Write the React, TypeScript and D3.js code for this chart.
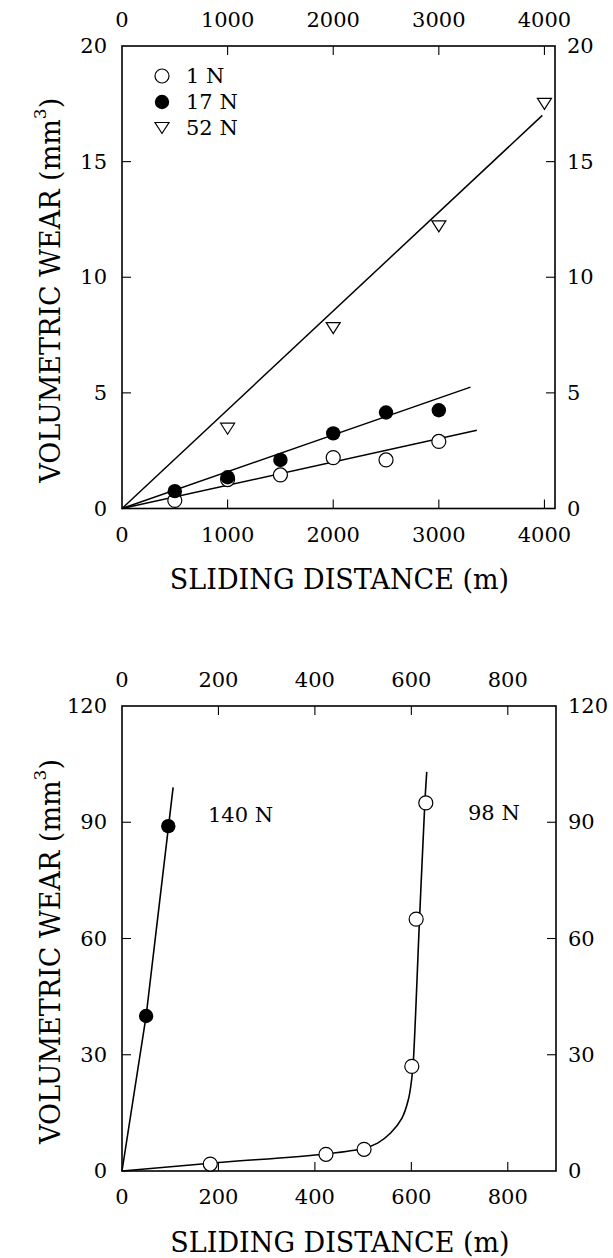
import React from "react";
import * as d3 from "d3";

// ---------- top chart data ----------
const topXTicks = [0, 1000, 2000, 3000, 4000];
const topYTicks = [0, 5, 10, 15, 20];
const dist1N = [500, 1000, 1500, 2000, 2500, 3000];
const wear1N = [0.35, 1.25, 1.45, 2.2, 2.1, 2.9];
const dist17N = [500, 1000, 1500, 2000, 2500, 3000];
const wear17N = [0.75, 1.35, 2.1, 3.25, 4.15, 4.25];
const dist52N = [1000, 2000, 3000, 4000];
const wear52N = [3.45, 7.8, 12.2, 17.5];
const fit1N: [number, number][] = [[0, 0], [3360, 3.38]];
const fit17N: [number, number][] = [[0, 0], [3300, 5.25]];
const fit52N: [number, number][] = [[0, 0], [3980, 17.0]];
const legendLabels = ["1 N", "17 N", "52 N"];

// ---------- bottom chart data ----------
const botXTicks = [0, 200, 400, 600, 800];
const botYTicks = [0, 30, 60, 90, 120];
const dist140N = [50, 96];
const wear140N = [40, 89];
const fit140N: [number, number][] = [[0, 0], [50, 40], [106, 99]];
const dist98N = [183, 423, 502, 601, 610, 630];
const wear98N = [1.8, 4.3, 5.6, 27, 65, 95];
const fit98N: [number, number][] = [
  [0, 0], [183, 2.0], [423, 4.4], [500, 5.8], [530, 7.2], [557, 9.8],
  [580, 13.5], [594, 18.5], [601, 24], [604, 28], [617, 65], [628, 95], [632, 103],
];

const FONT = "DejaVu Serif";
const TICK_FS = 21;
const TITLE_FS = 27;

type Frame = { x0: number; x1: number; y0: number; y1: number };

function Label({ x, y, t, anchor }: { x: number; y: number; t: string; anchor: string }) {
  return (
    <text x={x} y={y} textAnchor={anchor} dominantBaseline="central" fontSize={TICK_FS} fontFamily={FONT}>
      {t}
    </text>
  );
}

function Axes({ xs, ys, xTicks, yTicks, f }: any) {
  const tl = 9;
  return (
    <g>
      <rect x={f.x0} y={f.y0} width={f.x1 - f.x0} height={f.y1 - f.y0} fill="none" stroke="#000" strokeWidth={1.6} />
      {xTicks.map((t: number) => (
        <g key={"x" + t}>
          {t !== 0 && <line x1={xs(t)} x2={xs(t)} y1={f.y1} y2={f.y1 - tl} stroke="#000" strokeWidth={1.1} />}
          {t !== 0 && <line x1={xs(t)} x2={xs(t)} y1={f.y0} y2={f.y0 + tl} stroke="#000" strokeWidth={1.1} />}
          <Label x={xs(t)} y={f.y1 + 26} t={String(t)} anchor="middle" />
          <Label x={xs(t)} y={f.y0 - 26} t={String(t)} anchor="middle" />
        </g>
      ))}
      {yTicks.map((t: number) => (
        <g key={"y" + t}>
          {t !== 0 && t !== yTicks[yTicks.length - 1] && (
            <>
              <line x1={f.x0} x2={f.x0 + tl} y1={ys(t)} y2={ys(t)} stroke="#000" strokeWidth={1.1} />
              <line x1={f.x1} x2={f.x1 - tl} y1={ys(t)} y2={ys(t)} stroke="#000" strokeWidth={1.1} />
            </>
          )}
          <Label x={f.x0 - 15} y={ys(t)} t={String(t)} anchor="end" />
          <Label x={f.x1 + 12} y={ys(t)} t={String(t)} anchor="start" />
        </g>
      ))}
    </g>
  );
}

function Titles({ f }: { f: Frame }) {
  const cy = (f.y0 + f.y1) / 2 + 13;
  return (
    <g fontFamily={FONT}>
      <text x={(f.x0 + f.x1) / 2 + 1} y={f.y1 + 71} textAnchor="middle" dominantBaseline="central" fontSize={TITLE_FS}>
        SLIDING DISTANCE (m)
      </text>
      <text transform={`translate(50,${cy}) rotate(-90)`} textAnchor="middle" dominantBaseline="central" fontSize={TITLE_FS}>
        VOLUMETRIC WEAR (mm<tspan fontSize={17} dy={-10}>3</tspan><tspan dy={10}>)</tspan>
      </text>
    </g>
  );
}

function OpenCircle({ cx, cy }: { cx: number; cy: number }) {
  return <circle cx={cx} cy={cy} r={7} fill="#fff" stroke="#000" strokeWidth={1.2} />;
}
function FilledCircle({ cx, cy }: { cx: number; cy: number }) {
  return <circle cx={cx} cy={cy} r={7.2} fill="#000" />;
}
function TriDown({ cx, cy }: { cx: number; cy: number }) {
  const w = 7, h = 11;
  return <path d={`M${cx - w},${cy - h / 2}L${cx + w},${cy - h / 2}L${cx},${cy + h / 2}Z`} fill="#fff" stroke="#000" strokeWidth={1.2} />;
}

export default function App() {
  const top: Frame = { x0: 122, x1: 555, y0: 46, y1: 508.5 };
  const bot: Frame = { x0: 122, x1: 556, y0: 706, y1: 1171 };

  const xT = d3.scaleLinear().domain([0, 4100]).range([top.x0, top.x1]);
  const yT = d3.scaleLinear().domain([0, 20]).range([top.y1, top.y0]);
  const xB = d3.scaleLinear().domain([0, 900]).range([bot.x0, bot.x1]);
  const yB = d3.scaleLinear().domain([0, 120]).range([bot.y1, bot.y0]);

  const lineT = d3.line<[number, number]>().x((d) => xT(d[0])).y((d) => yT(d[1]));
  const lineB = d3.line<[number, number]>().x((d) => xB(d[0])).y((d) => yB(d[1]));
  const curveB = d3
    .line<[number, number]>()
    .x((d) => xB(d[0]))
    .y((d) => yB(d[1]))
    .curve(d3.curveCatmullRom.alpha(0.5));

  const legendY = [76, 102, 128];

  return (
    <svg width={613} height={1258} style={{ position: "absolute", left: 0, top: 0, background: "#fff" }}>
      {/* ---------- top chart ---------- */}
      <Axes xs={xT} ys={yT} xTicks={topXTicks} yTicks={topYTicks} f={top} />
      <Titles f={top} />
      <g fill="none" stroke="#000" strokeWidth={1.5}>
        <path d={lineT(fit1N) || ""} />
        <path d={lineT(fit17N) || ""} />
        <path d={lineT(fit52N) || ""} />
      </g>
      {dist1N.map((d, i) => <OpenCircle key={"a" + i} cx={xT(d)} cy={yT(wear1N[i])} />)}
      {dist17N.map((d, i) => <FilledCircle key={"b" + i} cx={xT(d)} cy={yT(wear17N[i])} />)}
      {dist52N.map((d, i) => <TriDown key={"c" + i} cx={xT(d)} cy={yT(wear52N[i])} />)}
      <g fontFamily={FONT} fontSize={TICK_FS}>
        <OpenCircle cx={162} cy={legendY[0]} />
        <FilledCircle cx={162} cy={legendY[1]} />
        <TriDown cx={162} cy={legendY[2]} />
        {legendLabels.map((l, i) => (
          <text key={l} x={186} y={legendY[i]} dominantBaseline="central">{l}</text>
        ))}
      </g>

      {/* ---------- bottom chart ---------- */}
      <Axes xs={xB} ys={yB} xTicks={botXTicks} yTicks={botYTicks} f={bot} />
      <Titles f={bot} />
      <g fill="none" stroke="#000" strokeWidth={1.6}>
        <path d={lineB(fit140N) || ""} />
        <path d={curveB(fit98N) || ""} />
      </g>
      {dist140N.map((d, i) => <FilledCircle key={"d" + i} cx={xB(d)} cy={yB(wear140N[i])} />)}
      {dist98N.map((d, i) => <OpenCircle key={"e" + i} cx={xB(d)} cy={yB(wear98N[i])} />)}
      <text x={208} y={815} dominantBaseline="central" fontSize={TICK_FS} fontFamily={FONT}>140 N</text>
      <text x={468} y={813} dominantBaseline="central" fontSize={TICK_FS} fontFamily={FONT}>98 N</text>
    </svg>
  );
}
